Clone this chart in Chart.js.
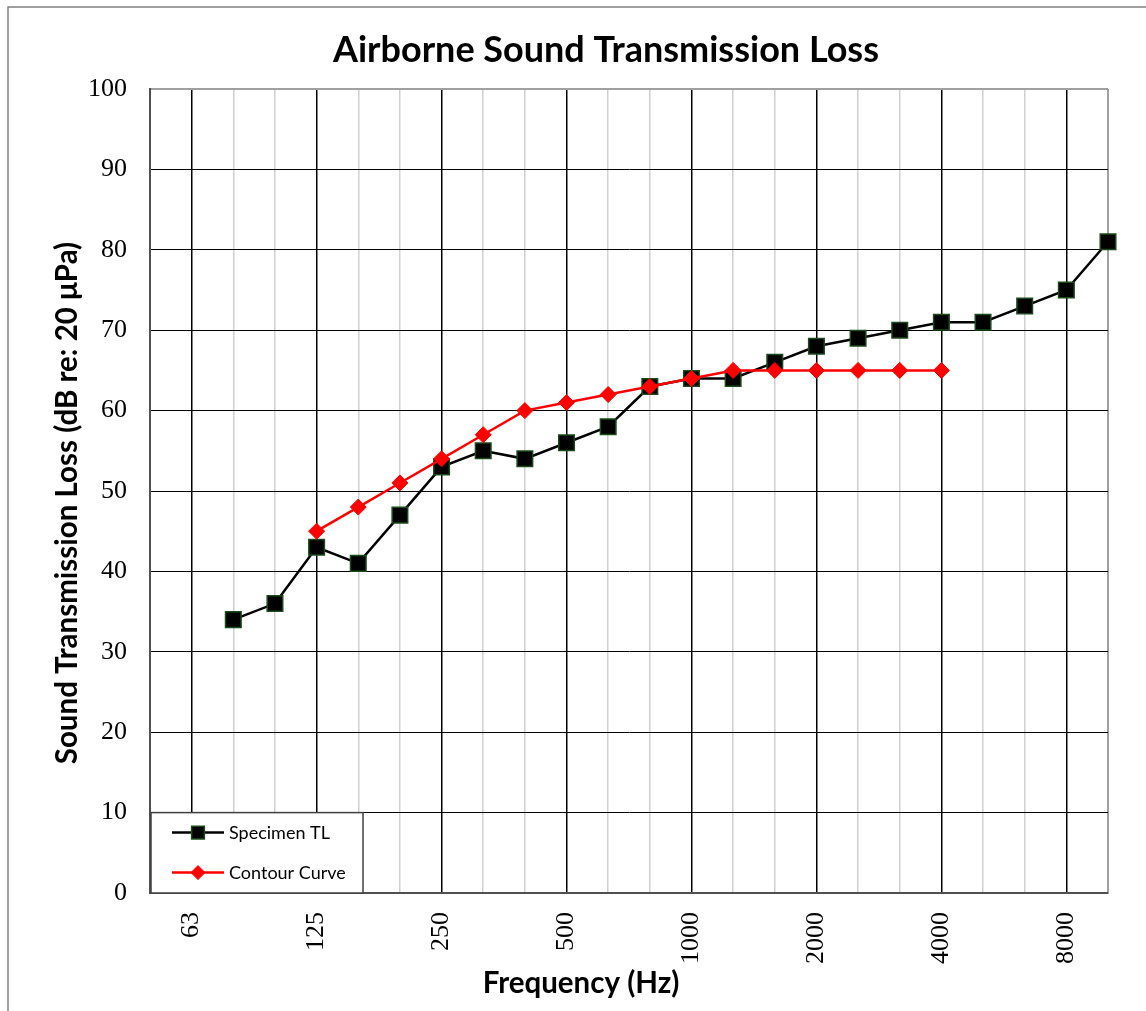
<!DOCTYPE html>
<html><head><meta charset="utf-8">
<script src="https://cdn.jsdelivr.net/npm/chart.js@4/dist/chart.umd.min.js"></script>
<style>html,body{margin:0;padding:0;background:#fff;} #wrap{position:relative;width:1146px;height:1011px;}</style>
</head><body><div id="wrap"><canvas id="c" width="1146" height="1011"></canvas></div>
<script>
const chartTitle = 'Airborne Sound Transmission Loss';
const xTitle = 'Frequency (Hz)';
const yTitle = 'Sound Transmission Loss (dB re: 20 \u03bcPa)';
const frequencies = ['50','63','80','100','125','160','200','250','315','400','500','630','800','1000','1250','1600','2000','2500','3150','4000','5000','6300','8000','10000'];
const octaveLabels = ['63','125','250','500','1000','2000','4000','8000'];
const specimenTL = [null,null,34,36,43,41,47,53,55,54,56,58,63,64,64,66,68,69,70,71,71,73,75,81];
const contourCurve = [null,null,null,null,45,48,51,54,57,60,61,62,63,64,65,65,65,65,65,65,null,null,null,null];
const yMin = 0, yMax = 100, yStep = 10;

const decor = {
  id: 'decor',
  beforeDraw(chart) {
    const ctx = chart.ctx;
    ctx.save();
    ctx.fillStyle = '#fff';
    ctx.fillRect(0, 0, chart.width, chart.height);
    ctx.strokeStyle = '#808080';
    ctx.lineWidth = 1.5;
    ctx.beginPath();
    ctx.moveTo(8, chart.height); ctx.lineTo(8, 7); ctx.lineTo(chart.width, 7);
    ctx.stroke();
    ctx.restore();
  },
  afterDraw(chart) {
    const ctx = chart.ctx;
    const ca = chart.chartArea;
    ctx.save();
    ctx.fillStyle = '#000';
    ctx.textAlign = 'center';
    ctx.textBaseline = 'middle';
    ctx.font = 'bold 36px Lato';
    ctx.fillText(chartTitle, 606, 50);
    ctx.font = 'bold 29.5px Lato';
    ctx.fillText(xTitle, 581, 983);
    ctx.save();
    ctx.translate(67, 503);
    ctx.rotate(-Math.PI / 2);
    ctx.font = 'bold 29.5px Lato';
    ctx.fillText(yTitle, 0, 0);
    ctx.restore();

    // legend box
    const ys = chart.scales.y;
    const boxTop = ys.getPixelForValue(10);
    const boxLeft = ca.left + 1, boxRight = ca.left + 213, boxBottom = ca.bottom;
    ctx.fillStyle = '#fff';
    ctx.fillRect(boxLeft, boxTop, boxRight - boxLeft, boxBottom - boxTop);
    ctx.strokeStyle = '#404040';
    ctx.lineWidth = 1.5;
    ctx.strokeRect(boxLeft, boxTop, boxRight - boxLeft, boxBottom - boxTop);
    const rows = [boxTop + 20, boxTop + 60];
    chart.data.datasets.forEach((ds, i) => {
      const y = rows[i];
      ctx.strokeStyle = ds.borderColor;
      ctx.lineWidth = ds.borderWidth;
      ctx.beginPath();
      ctx.moveTo(ca.left + 22, y); ctx.lineTo(ca.left + 74, y);
      ctx.stroke();
      ctx.fillStyle = ds.pointBackgroundColor;
      ctx.strokeStyle = ds.pointBorderColor;
      ctx.lineWidth = ds.pointBorderWidth;
      Chart.helpers.drawPoint(ctx, {pointStyle: ds.pointStyle, radius: ds.legendRadius, rotation: 0, borderWidth: ds.pointBorderWidth}, ca.left + 48, y);
      ctx.fillStyle = '#000';
      ctx.font = '18px Lato';
      ctx.textAlign = 'left';
      ctx.fillText(ds.label, ca.left + 79, y + 1);
    });
    ctx.restore();
  }
};

new Chart(document.getElementById('c'), {
  type: 'line',
  data: {
    labels: frequencies,
    datasets: [
      {
        label: 'Specimen TL', data: specimenTL, order: 1,
        borderColor: '#000', borderWidth: 2.5, tension: 0,
        pointStyle: 'rect', pointRadius: 11, pointHoverRadius: 11,
        pointBackgroundColor: '#000', pointBorderColor: '#1a4a1a', pointBorderWidth: 1.5,
        legendRadius: 9
      },
      {
        label: 'Contour Curve', data: contourCurve, order: 0,
        borderColor: '#ff0000', borderWidth: 2.5, tension: 0,
        pointStyle: 'rectRot', pointRadius: 8, pointHoverRadius: 8,
        pointBackgroundColor: '#ff0000', pointBorderColor: '#ff0000', pointBorderWidth: 1,
        legendRadius: 7
      }
    ]
  },
  options: {
    responsive: false,
    devicePixelRatio: 1,
    animation: false,
    events: [],
    layout: { padding: { left: 10, right: 38, top: 89, bottom: 0 } },
    plugins: { legend: { display: false }, tooltip: { enabled: false }, title: { display: false } },
    scales: {
      x: {
        type: 'category', offset: false,
        grid: {
          offset: false, drawTicks: false,
          color: c => { const l = frequencies[c.index]; if (c.index === frequencies.length - 1) return '#a0a0a0'; return octaveLabels.includes(l) ? '#000' : '#d0d0d0'; },
          lineWidth: c => { if (c.index === frequencies.length - 1) return 2; return 1.5; }
        },
        border: { color: '#505050', width: 2 },
        ticks: {
          autoSkip: false, maxRotation: 90, minRotation: 90, padding: 19, color: '#000',
          font: { family: 'Liberation Serif', size: 26 },
          callback: function (v, i) { const l = frequencies[i]; return octaveLabels.includes(l) ? l : ''; }
        },
        afterFit: s => { s.height = 118; s.paddingLeft = 0; s.paddingRight = 0; }
      },
      y: {
        min: yMin, max: yMax,
        grid: {
          drawTicks: false,
          color: c => c.tick.value === yMax ? '#a0a0a0' : '#000',
          lineWidth: c => c.tick.value === yMax ? 2 : 1
        },
        border: { color: '#505050', width: 2 },
        ticks: { stepSize: yStep, padding: 23, color: '#000', font: { family: 'Liberation Serif', size: 26 } },
        afterFit: s => { s.width = 140; s.paddingTop = 0; s.paddingBottom = 0; }
      }
    }
  },
  plugins: [decor]
});
</script>
</body></html>
